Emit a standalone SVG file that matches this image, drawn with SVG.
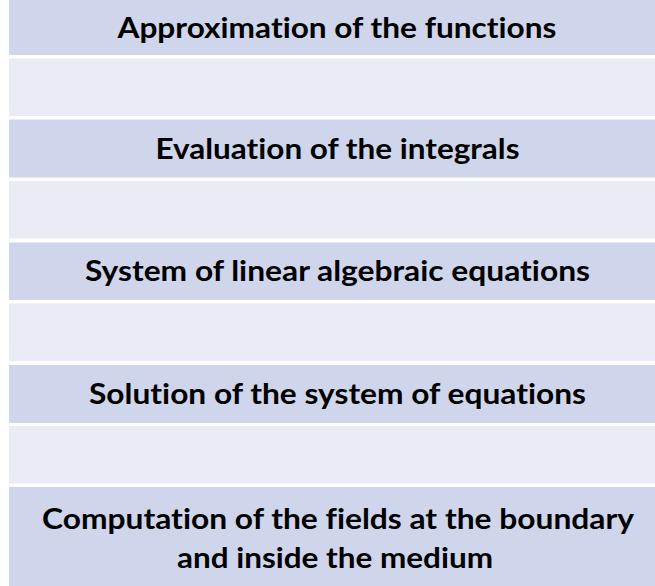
<svg xmlns="http://www.w3.org/2000/svg" width="655" height="586" viewBox="0 0 655 586">
<style>
.dark{fill:#CFD5EA}
.light{fill:#E9EBF5}
.t{font-family:Lato,"Liberation Sans",sans-serif;font-weight:bold;font-size:29px;fill:#000;text-anchor:middle;font-variant-ligatures:none;font-feature-settings:"liga" 0}
</style>
<rect width="655" height="586" fill="#FFFFFF"/>
<g id="row1"><rect class="dark" x="9" y="0" width="646" height="55"/><text class="t" x="337" y="38" textLength="439" lengthAdjust="spacingAndGlyphs">Approximation of the functions</text></g>
<g id="row2"><rect class="light" x="9" y="58.5" width="646" height="57.5"/></g>
<g id="row3"><rect class="dark" x="9" y="119.5" width="646" height="58"/><text class="t" x="337.5" y="158.5" textLength="364" lengthAdjust="spacingAndGlyphs">Evaluation of the integrals</text></g>
<g id="row4"><rect class="light" x="9" y="181" width="646" height="57.5"/></g>
<g id="row5"><rect class="dark" x="9" y="242.5" width="646" height="57.5"/><text class="t" x="337.5" y="281" textLength="505" lengthAdjust="spacingAndGlyphs">System of linear algebraic equations</text></g>
<g id="row6"><rect class="light" x="9" y="303.5" width="646" height="57.5"/></g>
<g id="row7"><rect class="dark" x="9" y="365" width="646" height="58"/><text class="t" x="337.5" y="403.5" textLength="497" lengthAdjust="spacingAndGlyphs">Solution of the system of equations</text></g>
<g id="row8"><rect class="light" x="9" y="426" width="646" height="57.5"/></g>
<g id="row9"><rect class="dark" x="9" y="487" width="646" height="99"/><text class="t" x="338" y="528.5" textLength="592" lengthAdjust="spacingAndGlyphs">Computation of the fields at the boundary</text><text class="t" x="335" y="568" textLength="316" lengthAdjust="spacingAndGlyphs">and inside the medium</text></g>
</svg>
